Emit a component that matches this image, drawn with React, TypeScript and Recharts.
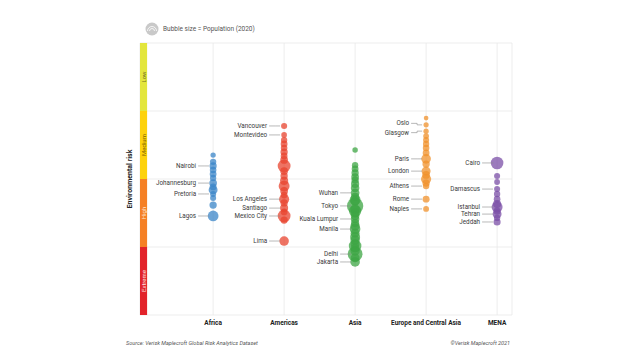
import React from 'react';
import { ScatterChart, Scatter, XAxis, YAxis, ZAxis, CartesianGrid, ReferenceArea } from 'recharts';

const categories = ['Africa', 'Americas', 'Asia', 'Europe and Central Asia', 'MENA'];
const colors = ['#3b86c8', '#e8442f', '#3ea544', '#f0922c', '#7b4fa7'];

const africaRisk = [5.88, 5.63, 5.48, 5.33, 5.18, 5.04, 4.85, 4.71, 4.6, 4.45, 4.3, 4.04, 3.64];
const africaPop = [1.2, 3.0, 4.7, 3.5, 4.0, 3.0, 5.8, 4.0, 9.0, 2.6, 2.5, 5.0, 14.4];
const africaLabels = ['', '', 'Nairobi', '', '', '', 'Johannesburg', '', '', 'Pretoria', '', '', 'Lagos'];

const americasRisk = [6.95, 6.62, 6.43, 6.29, 6.14, 5.99, 5.85, 5.7, 5.48, 5.29, 5.11, 4.93, 4.74, 4.56, 4.41, 4.26, 4.12, 3.93, 3.79, 3.64, 3.49, 2.72];
const americasPop = [2.6, 1.8, 3.0, 4.0, 3.5, 5.0, 4.0, 6.0, 22.0, 6.0, 5.0, 7.0, 15.0, 6.0, 4.0, 12.4, 5.0, 6.8, 4.0, 21.8, 5.0, 10.7];
const americasLabels = ['Vancouver', 'Montevideo', '', '', '', '', '', '', '', '', '', '', '', '', '', 'Los Angeles', '', 'Santiago', '', 'Mexico City', '', 'Lima'];

const asiaRisk = [6.07, 5.51, 5.37, 5.22, 5.07, 4.96, 4.82, 4.67, 4.49, 4.34, 4.23, 4.19, 4.01, 3.9, 3.82, 3.75, 3.64, 3.53, 3.38, 3.27, 3.16, 3.01, 2.87, 2.76, 2.61, 2.54, 2.46, 2.35, 2.24, 2.1, 1.95];
const asiaPop = [1.5, 3.0, 4.0, 5.0, 6.0, 5.0, 7.0, 8.0, 8.4, 7.0, 15.0, 9.0, 37.4, 10.0, 20.0, 9.0, 8.0, 8.0, 7.0, 10.0, 13.9, 9.0, 12.0, 10.0, 9.0, 21.0, 8.0, 10.0, 30.3, 9.0, 10.8];
const asiaLabels = ['', '', '', '', '', '', '', '', 'Wuhan', '', '', '', 'Tokyo', '', '', '', '', 'Kuala Lumpur', '', '', 'Manila', '', '', '', '', '', '', '', 'Delhi', '', 'Jakarta'];

const europeRisk = [7.24, 6.99, 6.76, 6.58, 6.43, 6.29, 6.14, 5.96, 5.74, 5.55, 5.29, 5.15, 5.0, 4.85, 4.74, 4.26, 3.9];
const europePop = [0.3, 1.0, 1.2, 2.0, 2.5, 3.0, 3.5, 4.0, 11.0, 5.0, 9.3, 6.0, 12.5, 5.0, 3.2, 4.3, 2.2];
const europeLabels = ['', 'Oslo', 'Glasgow', '', '', '', '', '', 'Paris', '', 'London', '', '', '', 'Athens', 'Rome', 'Naples'];

const menaRisk = [5.59, 5.11, 4.89, 4.63, 4.45, 4.26, 4.08, 3.97, 3.82, 3.71, 3.57, 3.42];
const menaPop = [20.9, 2.5, 2.0, 2.4, 3.0, 3.5, 7.0, 15.2, 5.0, 9.1, 3.0, 4.6];
const menaLabels = ['Cairo', '', '', 'Damascus', '', '', '', 'Istanbul', '', 'Tehran', '', 'Jeddah'];

const tierNames = ['Extreme', 'High', 'Medium', 'Low'];
const tierBounds = [0, 2.5, 5, 7.5, 10];
const tierColors = ['#e2232a', '#f58025', '#fdd20c', '#e3e63c'];
const tierTextColors = ['#fde0e0', '#fde6d2', '#7a6000', '#6e6e22'];

const riskByRegion = [africaRisk, americasRisk, asiaRisk, europeRisk, menaRisk];
const popByRegion = [africaPop, americasPop, asiaPop, europePop, menaPop];
const labelsByRegion = [africaLabels, americasLabels, asiaLabels, europeLabels, menaLabels];

const regionData = categories.map((c, i) =>
  riskByRegion[i].map((v, j) => ({ x: i + 1, risk: v, pop: popByRegion[i][j], label: labelsByRegion[i][j] }))
);
const labelData = regionData.flat().filter((d) => d.label);

const FONT = 'Roboto, "Liberation Sans", Arial, sans-serif';

// small vertical nudges (px) for crowded label pairs
const labelNudge: Record<string, number> = { Oslo: -1.5, Glasgow: 1.5 };

const Bubble = (props: any) => {
  const { cx, cy, width, fill } = props;
  if (cx == null || cy == null) return null;
  const r = (width || 4) / 2;
  return <circle cx={cx} cy={cy} r={r} fill={fill} fillOpacity={0.75} />;
};

const CityLabel = (props: any) => {
  const { cx, cy, payload } = props;
  if (cx == null || cy == null || !payload?.label) return null;
  const ty = cy + (labelNudge[payload.label] || 0);
  return (
    <g>
      <polyline
        points={`${cx - 15},${ty} ${cx - 9},${ty} ${cx - 9},${cy} ${cx - 4},${cy}`}
        stroke="#8a8a8a"
        strokeWidth={0.6}
        fill="none"
      />
      <text x={cx - 17} y={ty} textAnchor="end" dominantBaseline="central" fontSize={6.3} fill="#3a3a3a" fontFamily={FONT}>
        {payload.label}
      </text>
    </g>
  );
};

const tierLabel = (name: string, color: string) => (props: any) => {
  const vb = props.viewBox || {};
  const cx = vb.x + vb.width / 2;
  const cy = vb.y + vb.height / 2;
  return (
    <text
      x={cx}
      y={cy}
      transform={`rotate(-90, ${cx}, ${cy})`}
      textAnchor="middle"
      dominantBaseline="central"
      fontSize={6}
      fill={color}
      fontFamily={FONT}
    >
      {name}
    </text>
  );
};

export default function App() {
  return (
    <div style={{ position: 'absolute', left: 0, top: 0, width: 640, height: 360, background: '#fff' }}>
      <ScatterChart width={640} height={360} margin={{ top: 43, left: 140, right: 128, bottom: 25 }}>
        <CartesianGrid stroke="#e8e8e8" strokeWidth={0.8} />
        <XAxis
          type="number"
          dataKey="x"
          domain={[-0.03, 5.21]}
          ticks={[1, 2, 3, 4, 5]}
          interval={0}
          allowDataOverflow
          tickFormatter={(v: number) => categories[v - 1] || ''}
          axisLine={false}
          tickLine={false}
          tickSize={0}
          tickMargin={5}
          height={20}
          tick={{ fontSize: 6.5, fontWeight: 700, fill: '#222', fontFamily: FONT }}
        />
        <YAxis type="number" dataKey="risk" domain={[0, 10]} ticks={tierBounds} hide width={0} />
        <ZAxis type="number" dataKey="pop" domain={[0, 37.4]} range={[16, 210]} />
        {tierNames.map((name, i) => (
          <ReferenceArea
            key={name}
            x1={-0.03}
            x2={0.07}
            y1={tierBounds[i]}
            y2={tierBounds[i + 1]}
            fill={tierColors[i]}
            fillOpacity={1}
            stroke="none"
            label={tierLabel(name, tierTextColors[i])}
          />
        ))}
        {categories.map((c, i) => (
          <Scatter
            key={c}
            name={c}
            data={regionData[i]}
            fill={colors[i]}
            shape={<Bubble />}
            isAnimationActive={false}
          />
        ))}
        <Scatter name="labels" data={labelData} fill="none" shape={<CityLabel />} isAnimationActive={false} />
      </ScatterChart>
      <svg width={640} height={360} style={{ position: 'absolute', left: 0, top: 0, pointerEvents: 'none' }}>
        <g>
          <circle cx={152} cy={29} r={6.5} fill="#c9c9c9" />
          <path d="M 147.5 31 A 4.5 4.5 0 0 1 156.5 31" stroke="#fff" strokeWidth={0.8} fill="none" />
          <path d="M 149.5 31 A 2.5 2.5 0 0 1 154.5 31" stroke="#fff" strokeWidth={0.8} fill="none" />
          <text x={163} y={29} dominantBaseline="central" fontSize={6.5} fill="#555" fontFamily={FONT}>
            Bubble size = Population (2020)
          </text>
        </g>
        <text
          x={130}
          y={179}
          transform="rotate(-90, 130, 179)"
          textAnchor="middle"
          dominantBaseline="central"
          fontSize={7}
          fontWeight={700}
          fill="#222"
          fontFamily={FONT}
        >
          Environmental risk
        </text>
        <text x={126} y={343} dominantBaseline="central" fontSize={5.5} fontStyle="italic" fill="#555" fontFamily={FONT}>
          Source: Verisk Maplecroft Global Risk Analytics Dataset
        </text>
        <text x={510} y={343} textAnchor="end" dominantBaseline="central" fontSize={5.5} fontStyle="italic" fill="#555" fontFamily={FONT}>
          ©Verisk Maplecroft 2021
        </text>
      </svg>
    </div>
  );
}
